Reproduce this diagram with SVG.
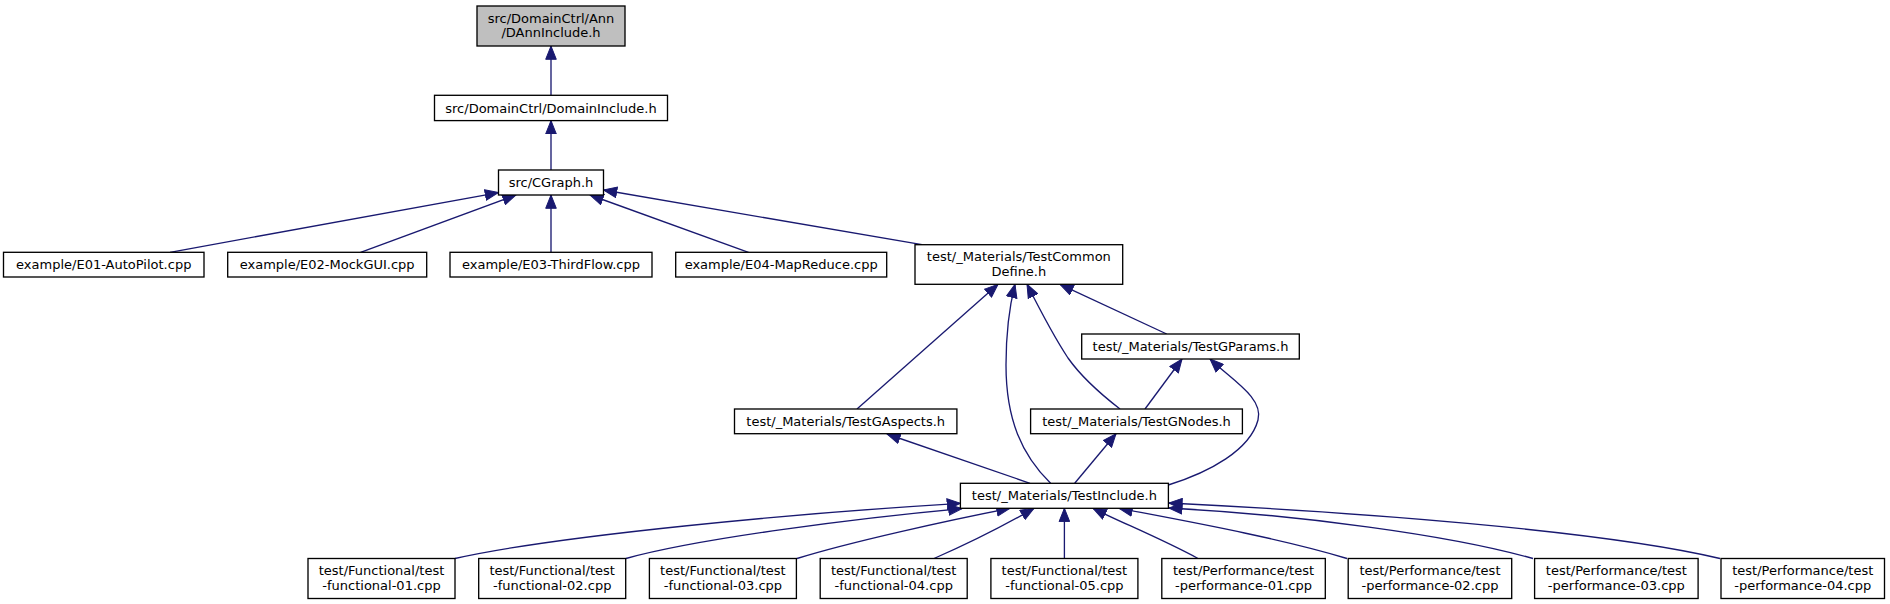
<svg xmlns="http://www.w3.org/2000/svg" width="1890" height="604" viewBox="0 0 1890 604">
<style>
.n rect{fill:#fff;stroke:#000;stroke-width:1.33}
.n.root rect{fill:#bfbfbf}
.n text{font-family:"DejaVu Sans",sans-serif;font-size:13px;fill:#000;text-anchor:middle}
#edges path{fill:none;stroke:#191970;stroke-width:1.33;marker-end:url(#arr)}
</style>
<defs>
<marker id="arr" markerUnits="userSpaceOnUse" markerWidth="15" markerHeight="12" viewBox="0 0 15 12" refX="13.8" refY="6" orient="auto">
<path d="M0.5,0.7 L13.8,6 L0.5,11.3 Z" fill="#191970" stroke="#191970" stroke-width="1"/>
</marker>
</defs>
<rect width="1890" height="604" fill="#fff"/>
<g id="edges">
<path d="M551,95.3 L551,46"/>
<path d="M551,170 L551,120.6"/>
<path d="M170,252.3 L498.5,192.6"/>
<path d="M360.6,252.3 L516,195"/>
<path d="M551,252.3 L551,195"/>
<path d="M748.5,252.3 L590,195"/>
<path d="M922,244.7 L603.5,190"/>
<path d="M857,409 L998,284.3"/>
<path d="M1050.6,483.3 C1022,455 1006,420 1006,365 C1006,330 1009,308 1015,284.3"/>
<path d="M1120,409 C1098,392 1080,375 1068,358 C1054,337 1040,310 1027,284.3"/>
<path d="M1166.7,334 L1060,284.3"/>
<path d="M1145,409 L1182,359"/>
<path d="M1168.3,485 C1210,472 1250,450 1258,420 C1264,398 1232,380 1210,359"/>
<path d="M1030,483.3 L887,434"/>
<path d="M1074.7,483.3 L1116,433.7"/>
<path d="M455,558.5 C560,535 800,513 960.4,503.3"/>
<path d="M626,558.5 C700,538 860,518 962,508.6"/>
<path d="M797,558.5 C850,542 950,520 1010,508.3"/>
<path d="M934,558.5 C965,545 1005,525 1034,508.3"/>
<path d="M1064.4,558.5 L1064.4,508.3"/>
<path d="M1198,558.5 C1160,538 1120,522 1093,508.3"/>
<path d="M1347,558.5 C1280,538 1180,520 1119,508.3"/>
<path d="M1533,558.5 C1450,535 1300,515 1168.8,508"/>
<path d="M1720,558.5 C1600,530 1350,512 1168.8,503"/>
</g>
<g id="n_root" class="n root"><rect x="477" y="6" width="148" height="40"/><text x="551" y="22.7">src/DomainCtrl/Ann</text><text x="551" y="37.4">/DAnnInclude.h</text></g>
<g id="n_domaininclude" class="n"><rect x="434.5" y="95.3" width="233" height="25.3"/><text x="551" y="112.5">src/DomainCtrl/DomainInclude.h</text></g>
<g id="n_cgraph" class="n"><rect x="498.5" y="170" width="105" height="25"/><text x="551" y="187">src/CGraph.h</text></g>
<g id="n_e01" class="n"><rect x="3.5" y="252.3" width="200.5" height="24.7"/><text x="103.75" y="269.2">example/E01-AutoPilot.cpp</text></g>
<g id="n_e02" class="n"><rect x="227.7" y="252.3" width="199" height="24.7"/><text x="327.2" y="269.2">example/E02-MockGUI.cpp</text></g>
<g id="n_e03" class="n"><rect x="450" y="252.3" width="202" height="24.7"/><text x="551" y="269.2">example/E03-ThirdFlow.cpp</text></g>
<g id="n_e04" class="n"><rect x="675.7" y="252.3" width="211" height="24.7"/><text x="781.2" y="269.2">example/E04-MapReduce.cpp</text></g>
<g id="n_tcd" class="n"><rect x="915" y="244.7" width="207.7" height="39.6"/><text x="1018.85" y="261.2">test/_Materials/TestCommon</text><text x="1018.85" y="275.9">Define.h</text></g>
<g id="n_tgp" class="n"><rect x="1081.7" y="334" width="217.6" height="25"/><text x="1190.5" y="351">test/_Materials/TestGParams.h</text></g>
<g id="n_tga" class="n"><rect x="734.5" y="409" width="222.4" height="24.7"/><text x="845.7" y="425.8">test/_Materials/TestGAspects.h</text></g>
<g id="n_tgn" class="n"><rect x="1030.6" y="409" width="211.8" height="24.7"/><text x="1136.5" y="425.8">test/_Materials/TestGNodes.h</text></g>
<g id="n_ti" class="n"><rect x="960.4" y="483.3" width="208" height="25"/><text x="1064.4" y="500.3">test/_Materials/TestInclude.h</text></g>
<g id="n_f01" class="n"><rect x="308" y="558.5" width="147" height="40"/><text x="381.5" y="575.2">test/Functional/test</text><text x="381.5" y="589.9">-functional-01.cpp</text></g>
<g id="n_f02" class="n"><rect x="478.7" y="558.5" width="147" height="40"/><text x="552.2" y="575.2">test/Functional/test</text><text x="552.2" y="589.9">-functional-02.cpp</text></g>
<g id="n_f03" class="n"><rect x="649.4" y="558.5" width="147" height="40"/><text x="722.9" y="575.2">test/Functional/test</text><text x="722.9" y="589.9">-functional-03.cpp</text></g>
<g id="n_f04" class="n"><rect x="820.2" y="558.5" width="147" height="40"/><text x="893.7" y="575.2">test/Functional/test</text><text x="893.7" y="589.9">-functional-04.cpp</text></g>
<g id="n_f05" class="n"><rect x="990.9" y="558.5" width="147" height="40"/><text x="1064.4" y="575.2">test/Functional/test</text><text x="1064.4" y="589.9">-functional-05.cpp</text></g>
<g id="n_p01" class="n"><rect x="1161.8" y="558.5" width="163.5" height="40"/><text x="1243.55" y="575.2">test/Performance/test</text><text x="1243.55" y="589.9">-performance-01.cpp</text></g>
<g id="n_p02" class="n"><rect x="1348.2" y="558.5" width="163.5" height="40"/><text x="1429.95" y="575.2">test/Performance/test</text><text x="1429.95" y="589.9">-performance-02.cpp</text></g>
<g id="n_p03" class="n"><rect x="1534.6" y="558.5" width="163.5" height="40"/><text x="1616.35" y="575.2">test/Performance/test</text><text x="1616.35" y="589.9">-performance-03.cpp</text></g>
<g id="n_p04" class="n"><rect x="1721" y="558.5" width="163.5" height="40"/><text x="1802.75" y="575.2">test/Performance/test</text><text x="1802.75" y="589.9">-performance-04.cpp</text></g>
</svg>
